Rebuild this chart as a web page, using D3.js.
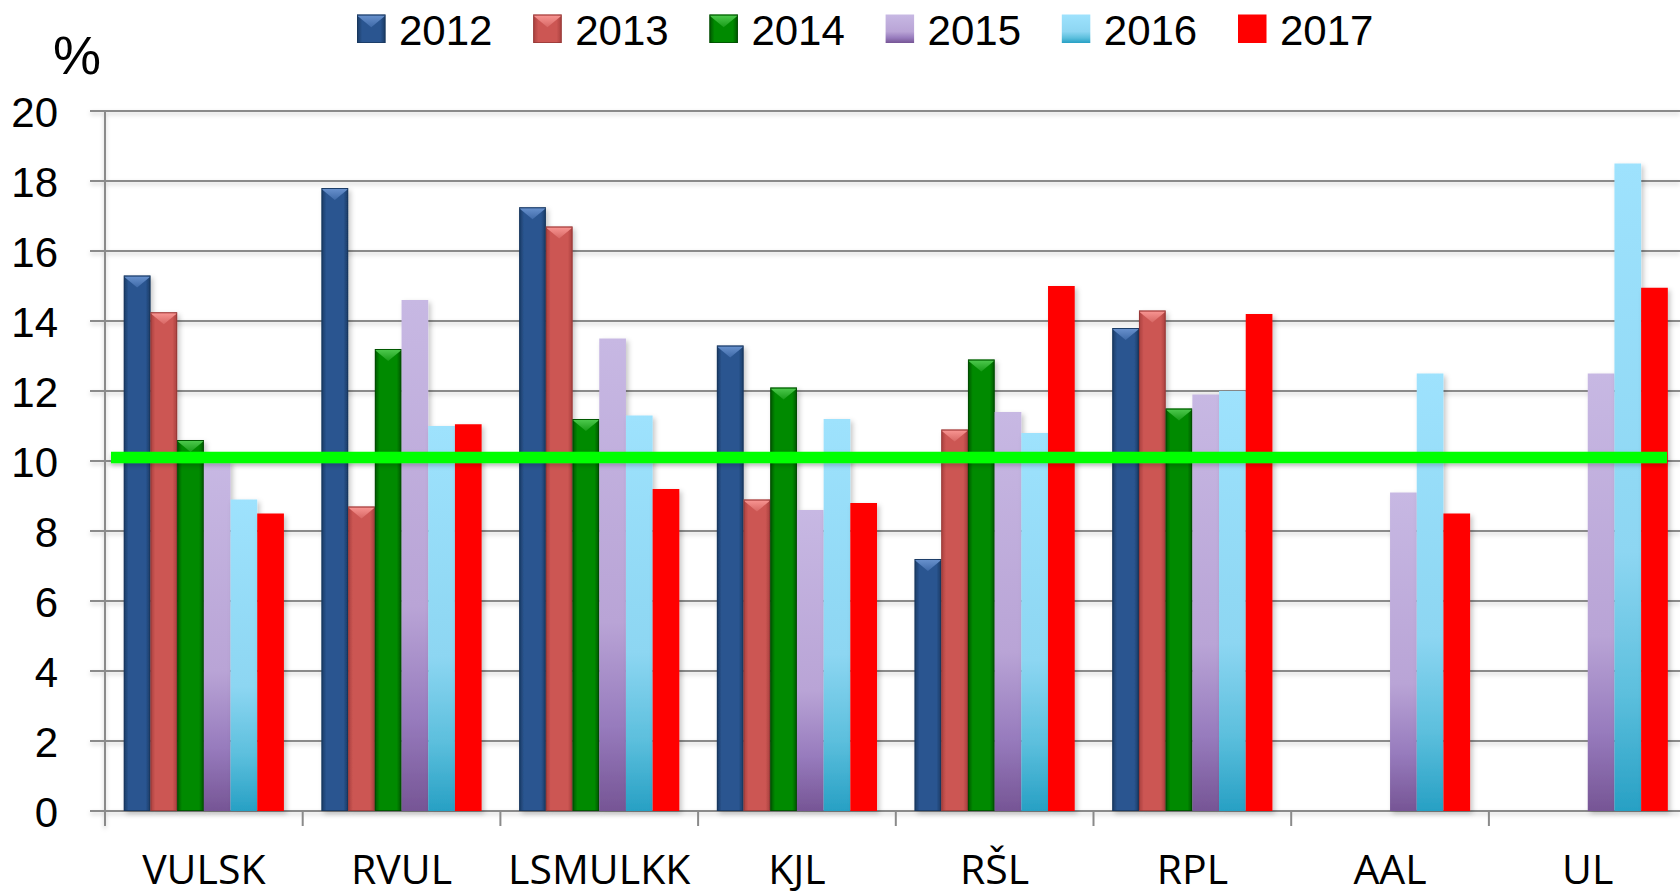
<!DOCTYPE html>
<html>
<head>
<meta charset="utf-8">
<script src="https://cdn.jsdelivr.net/npm/d3@7"></script>
<style>
  html, body { margin: 0; padding: 0; background: #fff; }
  svg { display: block; }
</style>
</head>
<body>
<svg id="chart" width="1680" height="892"></svg>
<script>
// ---- data ----
const categories = ["VULSK", "RVUL", "LSMULKK", "KJL", "RŠL", "RPL", "AAL", "UL"];
const years = ["2012", "2013", "2014", "2015", "2016", "2017"];
const v2012 = [15.3, 17.8, 17.25, 13.3, 7.2, 13.8, null, null];
const v2013 = [14.25, 8.7, 16.7, 8.9, 10.9, 14.3, null, null];
const v2014 = [10.6, 13.2, 11.2, 12.1, 12.9, 11.5, null, null];
const v2015 = [10.0, 14.6, 13.5, 8.6, 11.4, 11.9, 9.1, 12.5];
const v2016 = [8.9, 11.0, 11.3, 11.2, 10.8, 12.0, 12.5, 18.5];
const v2017 = [8.5, 11.05, 9.2, 8.8, 15.0, 14.2, 8.5, 14.95];
const yTicks = [0, 2, 4, 6, 8, 10, 12, 14, 16, 18, 20];
const targetValue = 10.1;
const yUnit = "%";

const seriesValues = [v2012, v2013, v2014, v2015, v2016, v2017];

// ---- styles ----
const styles = {
  "2012": { type: "bevel", edge: "#1a3a63", mid: "#2a5590", tri: "#6790cc", tri2: "#3f6aa8", stroke: "#17355a" },
  "2013": { type: "bevel", edge: "#a8403e", mid: "#cc5653", tri: "#f79491", tri2: "#d76764", stroke: "#8e3533" },
  "2014": { type: "bevel", edge: "#005400", mid: "#008a00", tri: "#4cc84c", tri2: "#179c17", stroke: "#004400" },
  "2015": { type: "vgrad", stops: [[0, "#c7b8e3"], [0.6, "#b9a4d6"], [0.82, "#977bbd"], [1, "#765595"]] },
  "2016": { type: "vgrad", stops: [[0, "#9ee2fd"], [0.6, "#8dd6f2"], [0.82, "#5cbfdd"], [1, "#27a0c4"]] },
  "2017": { type: "solid", fill: "#ff0000" }
};

const svg = d3.select("#chart");
const W = 1680, H = 892;
const plotLeft = 105, plotTop = 111, plotBottom = 811;
const step = 197.7;

const defs = svg.append("defs");
const f = defs.append("filter").attr("id", "shadow").attr("x", "-30%").attr("y", "-10%").attr("width", "160%").attr("height", "130%");
f.append("feDropShadow").attr("dx", 2.5).attr("dy", 2.5).attr("stdDeviation", 2.5)
  .attr("flood-color", "#000").attr("flood-opacity", 0.22);
const fl = defs.append("filter").attr("id", "lshadow")
  .attr("filterUnits", "userSpaceOnUse").attr("x", 0).attr("y", 0).attr("width", W).attr("height", H);
fl.append("feDropShadow").attr("dx", 0).attr("dy", 2.5).attr("stdDeviation", 2)
  .attr("flood-color", "#000").attr("flood-opacity", 0.2);

years.forEach(yr => {
  const s = styles[yr];
  if (s.type === "bevel") {
    const g = defs.append("linearGradient").attr("id", "g" + yr).attr("x1", 0).attr("x2", 1).attr("y1", 0).attr("y2", 0);
    [[0, s.edge], [0.18, s.mid], [0.82, s.mid], [1, s.edge]].forEach(([o, c]) =>
      g.append("stop").attr("offset", o).attr("stop-color", c));
    const t = defs.append("linearGradient").attr("id", "t" + yr).attr("x1", 0).attr("x2", 0).attr("y1", 0).attr("y2", 1);
    t.append("stop").attr("offset", 0).attr("stop-color", s.tri);
    t.append("stop").attr("offset", 1).attr("stop-color", s.tri2);
  } else if (s.type === "vgrad") {
    const g = defs.append("linearGradient").attr("id", "g" + yr).attr("x1", 0).attr("x2", 0).attr("y1", 0).attr("y2", 1);
    s.stops.forEach(([o, c]) => g.append("stop").attr("offset", o).attr("stop-color", c));
  }
});

// ---- scales ----
const x0 = d3.scaleBand().domain(categories)
  .range([plotLeft, plotLeft + step * categories.length])
  .paddingInner(0.19).paddingOuter(0.095);
const x1 = d3.scaleBand().domain(years).range([0, x0.bandwidth()]).padding(0);
const y = d3.scaleLinear().domain([0, 20]).range([plotBottom, plotTop]);

// ---- gridlines + y axis ----
const grid = svg.append("g").attr("filter", "url(#lshadow)");
yTicks.forEach(t => {
  grid.append("rect").attr("x", plotLeft - 15).attr("width", W - (plotLeft - 15))
    .attr("y", y(t) - 1).attr("height", 2)
    .attr("fill", "#8a8a8a");
});
grid.append("rect").attr("x", plotLeft - 1).attr("width", 2)
  .attr("y", y(20) - 1).attr("height", plotBottom + 15 - y(20) + 1)
  .attr("fill", "#8a8a8a");

const yAxis = d3.axisLeft(y).tickValues(yTicks).tickSize(0).tickPadding(0);
const yg = svg.append("g").attr("transform", `translate(58,0)`).call(yAxis);
yg.select(".domain").remove();
yg.selectAll("text").attr("font-family", "'Liberation Sans', Arial, sans-serif")
  .attr("font-size", 42).attr("fill", "#000").attr("dy", "0.36em").attr("x", 0);

svg.append("text").attr("x", 77).attr("y", 74).attr("text-anchor", "middle")
  .attr("font-family", "'Liberation Sans', Arial, sans-serif").attr("font-size", 54).text(yUnit);

// ---- x axis ticks ----
const xg = svg.append("g");
const boundaries = categories.map(c => x0(c) - x0.step() * x0.paddingInner() / 2);
boundaries.forEach(bx => {
  xg.append("rect").attr("x", bx - 1).attr("width", 2).attr("y", plotBottom).attr("height", 15)
    .attr("fill", "#8a8a8a");
});
categories.forEach(c => {
  xg.append("text").attr("x", x0(c) + x0.bandwidth() / 2).attr("y", 884)
    .attr("text-anchor", "middle")
    .attr("font-family", "'Open Sans', sans-serif").attr("font-size", 41).attr("fill", "#000")
    .text(c);
});

// ---- bars ----
const barsG = svg.append("g");
categories.forEach((c, ci) => {
  years.forEach((yr, si) => {
    const v = seriesValues[si][ci];
    if (v == null) return;
    const s = styles[yr];
    const bx = x0(c) + x1(yr), bw = x1.bandwidth();
    const by = y(v), bh = y(0) - y(v);
    const g = barsG.append("g");
    if (s.type === "bevel") {
      g.append("rect").attr("x", bx).attr("y", by).attr("width", bw).attr("height", bh)
        .attr("fill", `url(#g${yr})`).attr("filter", "url(#shadow)");
      g.append("path").attr("d", `M${bx},${by + 1}L${bx + bw},${by + 1}L${bx + bw / 2},${by + bw * 0.45}Z`)
        .attr("fill", `url(#t${yr})`);
      g.append("rect").attr("x", bx + 0.5).attr("y", by + 0.5).attr("width", bw - 1).attr("height", bh - 1)
        .attr("fill", "none").attr("stroke", s.stroke).attr("stroke-width", 1).attr("stroke-opacity", 0.7);
    } else if (s.type === "vgrad") {
      g.append("rect").attr("x", bx).attr("y", by).attr("width", bw).attr("height", bh)
        .attr("fill", `url(#g${yr})`).attr("filter", "url(#shadow)");
    } else {
      g.append("rect").attr("x", bx).attr("y", by).attr("width", bw).attr("height", bh)
        .attr("fill", s.fill).attr("filter", "url(#shadow)");
    }
  });
});

// ---- target line ----
svg.append("rect").attr("x", 111).attr("width", 1667 - 111)
  .attr("y", y(targetValue) - 5.75).attr("height", 11.5)
  .attr("fill", "#00ff00")
  .attr("filter", "url(#lshadow)");

// ---- legend ----
const legend = svg.append("g");
const legStart = 357, legStep = 176.2, sq = 28.5, legTop = 14.5;
years.forEach((yr, i) => {
  const lx = legStart + i * legStep;
  const s = styles[yr];
  const g = legend.append("g");
  if (s.type === "bevel") {
    g.append("rect").attr("x", lx).attr("y", legTop).attr("width", sq).attr("height", sq).attr("fill", `url(#g${yr})`);
    g.append("path").attr("d", `M${lx},${legTop + 1}L${lx + sq},${legTop + 1}L${lx + sq / 2},${legTop + sq * 0.45}Z`)
      .attr("fill", `url(#t${yr})`);
    g.append("rect").attr("x", lx + 0.5).attr("y", legTop + 0.5).attr("width", sq - 1).attr("height", sq - 1)
      .attr("fill", "none").attr("stroke", s.stroke).attr("stroke-opacity", 0.7);
  } else if (s.type === "vgrad") {
    g.append("rect").attr("x", lx).attr("y", legTop).attr("width", sq).attr("height", sq).attr("fill", `url(#g${yr})`);
  } else {
    g.append("rect").attr("x", lx).attr("y", legTop).attr("width", sq).attr("height", sq).attr("fill", s.fill);
  }
  g.append("text").attr("x", lx + 42).attr("y", 45)
    .attr("font-family", "'Liberation Sans', Arial, sans-serif").attr("font-size", 42).attr("fill", "#000")
    .text(yr);
});
</script>
</body>
</html>
